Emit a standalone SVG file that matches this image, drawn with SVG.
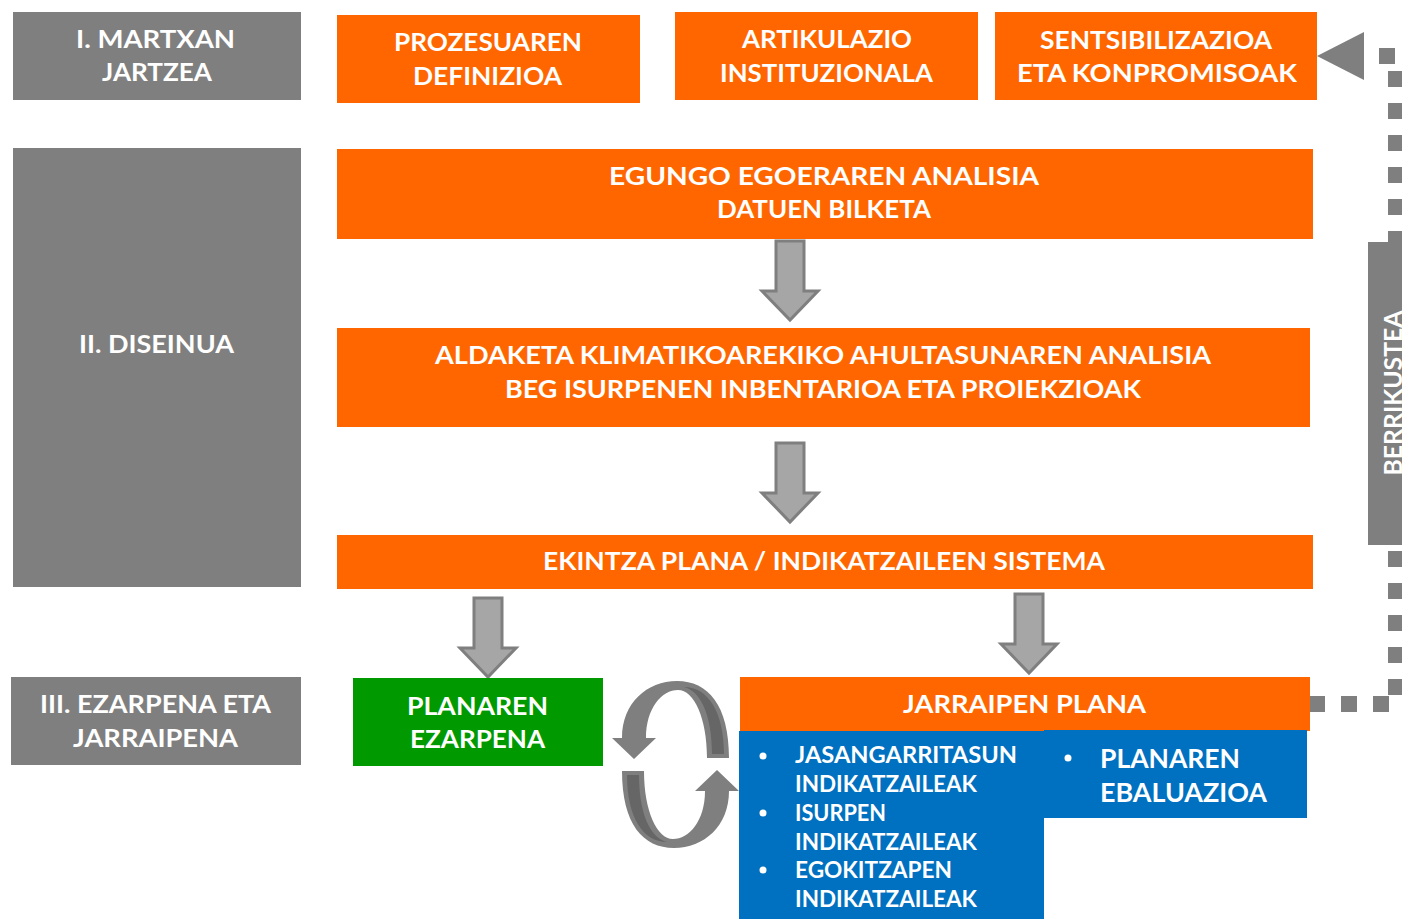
<svg xmlns="http://www.w3.org/2000/svg" width="1402" height="919" viewBox="0 0 1402 919">
<style>
.gray{fill:#7f7f7f}
.orange{fill:#ff6600}
.green{fill:#009a00}
.blue{fill:#0070c0}
text{font-family:Lato,"Open Sans","Liberation Sans",sans-serif;font-weight:bold;fill:#ffffff}
.t{font-size:24px;text-anchor:middle}
.s{font-size:22px}
.r{font-size:27px}
.arrow{fill:#a6a6a6;stroke:#7f7f7f;stroke-width:3}
.dots{fill:none;stroke:#7f7f7f;stroke-width:16;stroke-dasharray:16 16}
</style>
<defs>
<path id="darrow" class="arrow" d="M -14,0 H 14 V 50 H 28 L 0,79 L -28,50 H -14 Z"/>
<g id="halfcycle">
<path fill="#7f7f7f" d="M 612,738 L 622,738 C 622,703 647,681 677,681 C 708,681 729,705 729,758 L 707,758 C 707,718 694,690 678,690 C 662,690 646,708 646,738 L 656,738 L 634,759 Z"/>
<path fill="#666666" d="M 684,687 C 701,691 712,716 712,754 L 724,754 C 724,712 708,687 684,687 Z"/>
</g>
</defs>

<g id="connectors">
<path class="dots" d="M 1309,704 H 1396 V 56 H 1364"/>
<polygon class="gray" points="1317,56 1364,32 1364,80"/>
<use href="#darrow" x="790" y="241"/>
<use href="#darrow" x="790" y="443"/>
<use href="#darrow" x="488" y="598"/>
<use href="#darrow" x="1029" y="594"/>
<g id="cycle">
<use href="#halfcycle"/>
<use href="#halfcycle" transform="rotate(180 675.5 764.5)"/>
</g>
</g>

<g id="berrikustea">
<rect class="gray" x="1368" y="242" width="40" height="303"/>
<text class="t" transform="translate(1401.5,393) rotate(-90)" textLength="165" lengthAdjust="spacingAndGlyphs">BERRIKUSTEA</text>
</g>

<g id="phase1">
<rect class="gray" x="13" y="12" width="288" height="88"/>
<text class="t" x="155.5" y="48" textLength="159" lengthAdjust="spacingAndGlyphs">I. MARTXAN</text>
<text class="t" x="157" y="81" textLength="110" lengthAdjust="spacingAndGlyphs">JARTZEA</text>
</g>

<g id="prozesuaren">
<rect class="orange" x="337" y="15" width="303" height="88"/>
<text class="t" x="488" y="51" textLength="188" lengthAdjust="spacingAndGlyphs">PROZESUAREN</text>
<text class="t" x="487.5" y="85" textLength="149" lengthAdjust="spacingAndGlyphs">DEFINIZIOA</text>
</g>

<g id="artikulazio">
<rect class="orange" x="675" y="12" width="303" height="88"/>
<text class="t" x="827" y="48" textLength="170" lengthAdjust="spacingAndGlyphs">ARTIKULAZIO</text>
<text class="t" x="826.5" y="82" textLength="213" lengthAdjust="spacingAndGlyphs">INSTITUZIONALA</text>
</g>

<g id="sentsibilizazioa">
<rect class="orange" x="995" y="12" width="322" height="88"/>
<text class="t" x="1156" y="48.5" textLength="232" lengthAdjust="spacingAndGlyphs">SENTSIBILIZAZIOA</text>
<text class="t" x="1157" y="82" textLength="280" lengthAdjust="spacingAndGlyphs">ETA KONPROMISOAK</text>
</g>

<g id="phase2">
<rect class="gray" x="13" y="148" width="288" height="439"/>
<text class="t" x="156.5" y="353" textLength="155" lengthAdjust="spacingAndGlyphs">II. DISEINUA</text>
</g>

<g id="egungo">
<rect class="orange" x="337" y="149" width="976" height="90"/>
<text class="t" x="824" y="185" textLength="430" lengthAdjust="spacingAndGlyphs">EGUNGO EGOERAREN ANALISIA</text>
<text class="t" x="824" y="218" textLength="214" lengthAdjust="spacingAndGlyphs">DATUEN BILKETA</text>
</g>

<g id="aldaketa">
<rect class="orange" x="337" y="328" width="973" height="99"/>
<text class="t" x="823" y="364" textLength="776" lengthAdjust="spacingAndGlyphs">ALDAKETA KLIMATIKOAREKIKO AHULTASUNAREN ANALISIA</text>
<text class="t" x="823" y="398" textLength="636" lengthAdjust="spacingAndGlyphs">BEG ISURPENEN INBENTARIOA ETA PROIEKZIOAK</text>
</g>

<g id="ekintza">
<rect class="orange" x="337" y="535" width="976" height="54"/>
<text class="t" x="824" y="569.5" textLength="562" lengthAdjust="spacingAndGlyphs">EKINTZA PLANA / INDIKATZAILEEN SISTEMA</text>
</g>

<g id="phase3">
<rect class="gray" x="11" y="677" width="290" height="88"/>
<text class="t" x="155.5" y="713" textLength="231" lengthAdjust="spacingAndGlyphs">III. EZARPENA ETA</text>
<text class="t" x="155.5" y="747" textLength="165" lengthAdjust="spacingAndGlyphs">JARRAIPENA</text>
</g>

<g id="ezarpena">
<rect class="green" x="353" y="678" width="250" height="88"/>
<text class="t" x="477.5" y="715" textLength="141" lengthAdjust="spacingAndGlyphs">PLANAREN</text>
<text class="t" x="477.5" y="748" textLength="135" lengthAdjust="spacingAndGlyphs">EZARPENA</text>
</g>

<g id="jarraipen">
<rect class="orange" x="740" y="677" width="570" height="54"/>
<text class="t" x="1024.5" y="713" textLength="243" lengthAdjust="spacingAndGlyphs">JARRAIPEN PLANA</text>
</g>

<g id="indikatzaileak">
<rect class="blue" x="739" y="731" width="305" height="188"/>
<circle cx="763" cy="756" r="3.5" fill="#ffffff"/>
<circle cx="763" cy="813" r="3.5" fill="#ffffff"/>
<circle cx="763" cy="870" r="3.5" fill="#ffffff"/>
<text class="s" x="795" y="763" textLength="222" lengthAdjust="spacingAndGlyphs">JASANGARRITASUN</text>
<text class="s" x="795" y="792" textLength="182" lengthAdjust="spacingAndGlyphs">INDIKATZAILEAK</text>
<text class="s" x="795" y="821" textLength="91" lengthAdjust="spacingAndGlyphs">ISURPEN</text>
<text class="s" x="795" y="850" textLength="182" lengthAdjust="spacingAndGlyphs">INDIKATZAILEAK</text>
<text class="s" x="795" y="878" textLength="157" lengthAdjust="spacingAndGlyphs">EGOKITZAPEN</text>
<text class="s" x="795" y="907" textLength="182" lengthAdjust="spacingAndGlyphs">INDIKATZAILEAK</text>
</g>

<g id="ebaluazioa">
<rect class="blue" x="1044" y="730" width="263" height="88"/>
<circle cx="1068" cy="758" r="3.5" fill="#ffffff"/>
<text class="r" x="1100" y="768" textLength="140" lengthAdjust="spacingAndGlyphs">PLANAREN</text>
<text class="r" x="1100" y="802" textLength="167" lengthAdjust="spacingAndGlyphs">EBALUAZIOA</text>
</g>
</svg>
